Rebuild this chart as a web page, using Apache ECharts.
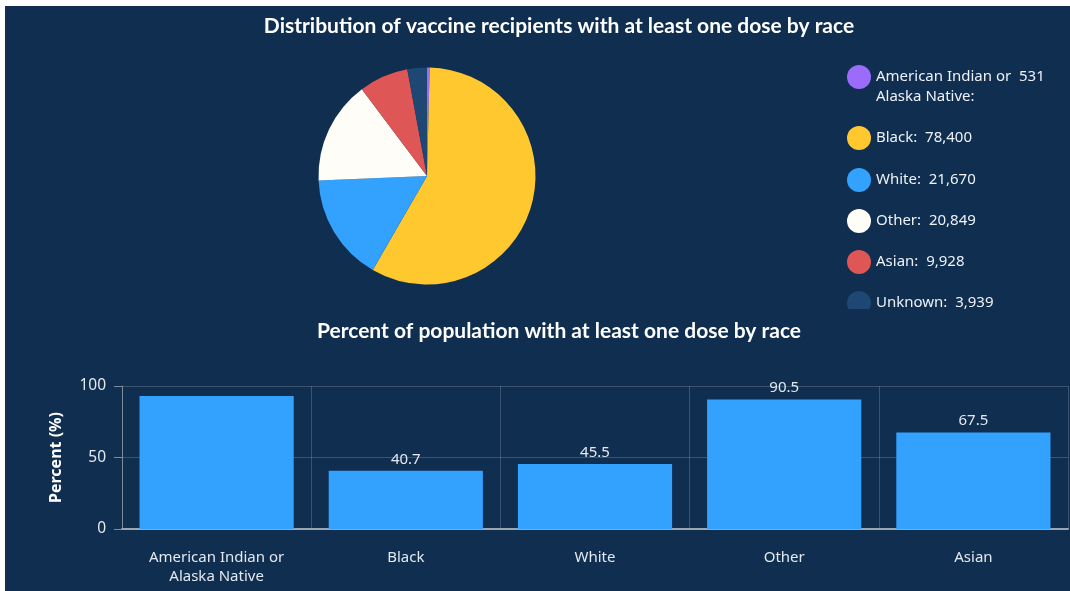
<!DOCTYPE html>
<html>
<head>
<meta charset="utf-8">
<script src="https://cdn.jsdelivr.net/npm/echarts@6/dist/echarts.min.js"></script>
<style>
html,body{margin:0;padding:0;background:#ffffff;}
#chart{position:absolute;left:5px;top:6px;width:1065px;height:585px;background:#0f2e50;}
</style>
</head>
<body>
<div id="chart"></div>
<script>
// ---- data ----
const pieTitle = 'Distribution of vaccine recipients with at least one dose by race';
const barTitle = 'Percent of population with at least one dose by race';
const pieNames = ['American Indian or Alaska Native', 'Black', 'White', 'Other', 'Asian', 'Unknown'];
const pieValues = [531, 78400, 21670, 20849, 9928, 3939];
const pieColors = ['#9b6cfb', '#ffc82f', '#33a2fe', '#fffdf8', '#df5656', '#1e4774'];
const barCategories = ['American Indian or\nAlaska Native', 'Black', 'White', 'Other', 'Asian'];
const barValues = [93.0, 40.7, 45.5, 90.5, 67.5];
const yTicks = [0, 50, 100];

const chart = echarts.init(document.getElementById('chart'));
const fmt = v => v.toLocaleString('en-US');

// legend positions (top of each legend block, relative to container)
const legendTops = [36, 115, 157, 198, 239, 280];

const legends = pieNames.map((name, i) => ({
  data: [name],
  orient: 'vertical',
  left: 837,
  top: legendTops[i],
  icon: 'circle',
  itemWidth: 24,
  itemHeight: 24,
  itemGap: 0,
  selectedMode: false,
  textStyle: { color: '#eef2f7', fontSize: 15, fontFamily: 'Noto Sans', lineHeight: 20 },
  formatter: function (n) {
    const idx = pieNames.indexOf(n);
    const v = fmt(pieValues[idx]);
    if (n.length > 20) {
      return ' \nAmerican Indian or  ' + v + '\nAlaska Native:';
    }
    return n + ':  ' + v;
  }
}));

const option = {
  backgroundColor: 'transparent',
  animation: false,
  title: [
    {
      text: pieTitle, left: 549, top: 5, textAlign: 'center',
      textStyle: { color: '#ffffff', fontSize: 21, fontWeight: 'bold', fontFamily: 'Lato' }
    },
    {
      text: barTitle, left: 549, top: 310, textAlign: 'center',
      textStyle: { color: '#ffffff', fontSize: 21, fontWeight: 'bold', fontFamily: 'Lato' }
    }
  ],
  legend: legends,
  graphic: {
    elements: [{
      type: 'rect', z: 100, left: 830, top: 303,
      shape: { width: 235, height: 12 },
      style: { fill: '#0f2e50' }
    }]
  },
  grid: { left: 117, right: 2, top: 380, bottom: 62, containLabel: false },
  xAxis: {
    type: 'category',
    data: barCategories,
    axisLine: { lineStyle: { color: '#9aa6b4', width: 2 } },
    axisTick: { alignWithLabel: true, length: 6, lineStyle: { color: '#8b97a6' } },
    axisLabel: { color: '#e4e9ef', fontSize: 15, fontFamily: 'Noto Sans', margin: 19, lineHeight: 19 },
    splitLine: { show: true, lineStyle: { color: 'rgba(255,255,255,0.18)' } }
  },
  yAxis: {
    type: 'value',
    min: 0, max: 100, interval: 50,
    name: 'Percent (%)',
    nameLocation: 'middle',
    nameRotate: 90,
    nameGap: 58,
    nameTextStyle: { color: '#ffffff', fontSize: 16, fontWeight: 'bold', fontFamily: 'Noto Sans' },
    axisLine: { show: true, lineStyle: { color: '#7f8c9c' } },
    axisTick: { show: true, length: 8, lineStyle: { color: '#7f8c9c' } },
    axisLabel: { color: '#e4e9ef', fontSize: 15.5, fontFamily: 'Noto Sans', margin: 16,
      formatter: v => yTicks.includes(v) ? String(v) : '' },
    splitLine: { show: true, lineStyle: { color: 'rgba(255,255,255,0.18)' } }
  },
  series: [
    {
      type: 'pie',
      center: [422, 170],
      radius: 108.5,
      startAngle: 90,
      clockwise: true,
      label: { show: false },
      labelLine: { show: false },
      itemStyle: { borderWidth: 0 },
      data: pieNames.map((n, i) => ({ name: n, value: pieValues[i], itemStyle: { color: pieColors[i] } }))
    },
    {
      type: 'bar',
      barCategoryGap: '18.5%',
      itemStyle: { color: '#33a1fe' },
      label: { show: true, position: 'top', distance: 4, color: '#e4e9ef', fontSize: 15, fontFamily: 'Noto Sans',
        formatter: p => p.value.toFixed(1) },
      data: barValues.map((v, i) => i === 0 ? { value: v, label: { show: false } } : v)
    }
  ]
};
chart.setOption(option);
</script>
</body>
</html>
